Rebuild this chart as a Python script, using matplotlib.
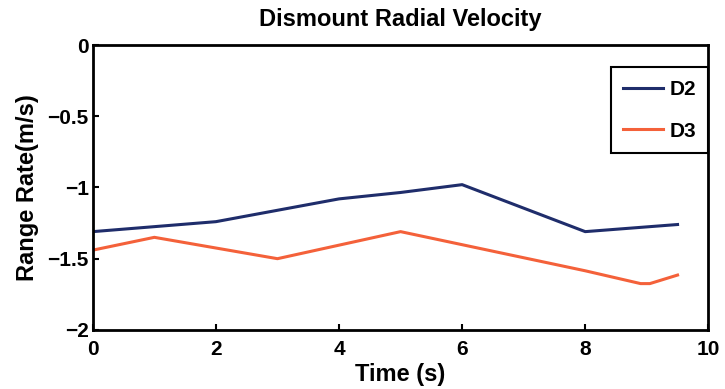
import matplotlib
matplotlib.use('Agg')
import matplotlib.pyplot as plt

plt.rcParams['font.family'] = ['Liberation Sans', 'DejaVu Sans']
plt.rcParams['font.weight'] = 'bold'

# D2 series
TimeD2 = [0, 1, 2, 4, 5, 6, 8, 9.5]
RateD2 = [-1.31, -1.275, -1.24, -1.08, -1.035, -0.98, -1.31, -1.26]

# D3 series
TimeD3 = [0, 1, 3, 5, 8, 8.9, 9.05, 9.5]
RateD3 = [-1.44, -1.35, -1.50, -1.31, -1.585, -1.675, -1.675, -1.615]

XTicks = [0, 2, 4, 6, 8, 10]
YTicks = [0, -0.5, -1, -1.5, -2]
YTickLabels = ['0', '\u22120.5', '\u22121', '\u22121.5', '\u22122']

fig = plt.figure(figsize=(7.25, 3.89), dpi=100)
ax = fig.add_axes([0.128, 0.152, 0.849, 0.732])

ax.plot(TimeD2, RateD2, color='#1f2d6b', linewidth=2.2, label='D2')
ax.plot(TimeD3, RateD3, color='#f4613a', linewidth=2.2, label='D3')

ax.set_xlim(0, 10)
ax.set_ylim(-2, 0)
ax.set_xticks(XTicks)
ax.set_yticks(YTicks)
ax.set_yticklabels(YTickLabels)
ax.tick_params(direction='in', length=4, width=1.5, labelsize=15)
ax.tick_params(axis='x', pad=7)
ax.tick_params(axis='y', pad=3)
for s in ax.spines.values():
    s.set_linewidth(2)

ax.set_title('Dismount Radial Velocity', fontsize=17, fontweight='bold', pad=14)
ax.set_xlabel('Time (s)', fontsize=17, fontweight='bold', labelpad=3)
ax.set_ylabel('Range Rate(m/s)', fontsize=17, fontweight='bold', labelpad=6)

leg = ax.legend(loc='upper right', bbox_to_anchor=(1.0, 0.922), borderaxespad=0,
                fontsize=15, fancybox=False, edgecolor='black', framealpha=1,
                handlelength=1.9, handletextpad=0.3, borderpad=0.6, labelspacing=1.1)
leg.get_frame().set_linewidth(1.5)

fig.savefig('out.png', dpi=100)
